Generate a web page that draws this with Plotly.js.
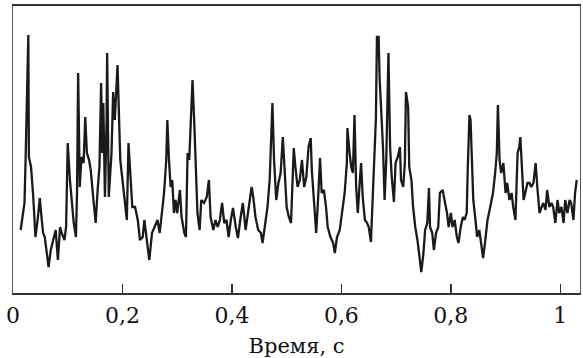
<!DOCTYPE html>
<html>
<head>
<meta charset="utf-8">
<script src="https://cdn.plot.ly/plotly-3.0.1.min.js"></script>
<style>
html,body{margin:0;padding:0;background:#fff;}
#chart{width:583px;height:358px;}
</style>
</head>
<body>
<div id="chart"></div>
<script>
// Time, s
const timeS = [0.014,0.021,0.023,0.028,0.029,0.033,0.037,0.041,0.045,0.049,0.052,0.055,0.058,0.065,0.069,0.074,0.078,0.082,0.086,0.089,0.094,0.097,0.100,0.104,0.107,0.111,0.115,0.117,0.119,0.122,0.125,0.129,0.132,0.135,0.139,0.142,0.147,0.151,0.155,0.158,0.161,0.163,0.165,0.168,0.171,0.172,0.175,0.180,0.183,0.186,0.191,0.194,0.196,0.200,0.204,0.208,0.211,0.215,0.218,0.223,0.228,0.232,0.237,0.240,0.244,0.249,0.254,0.258,
0.264,0.268,0.272,0.276,0.280,0.282,0.285,0.288,0.291,0.294,0.297,0.300,0.305,0.308,0.313,0.316,0.319,0.322,0.325,0.328,0.331,0.333,0.337,0.341,0.344,0.349,0.354,0.358,0.361,0.366,0.370,0.374,0.378,0.382,0.386,0.390,0.394,0.398,0.402,0.407,0.411,0.416,0.420,0.425,0.429,0.433,0.436,0.439,0.443,0.448,0.453,0.456,0.460,0.465,0.469,0.471,0.474,0.477,0.481,0.485,0.489,0.493,0.497,0.500,0.504,0.508,0.510,0.513,0.516,0.520,
0.524,0.528,0.532,0.536,0.540,0.544,0.546,0.550,0.554,0.558,0.561,0.564,0.568,0.572,0.575,0.580,0.585,0.588,0.592,0.597,0.601,0.606,0.610,0.611,0.615,0.618,0.621,0.624,0.627,0.630,0.633,0.636,0.639,0.643,0.647,0.650,0.654,0.657,0.661,0.663,0.665,0.668,0.670,0.673,0.676,0.679,0.682,0.686,0.689,0.692,0.696,0.699,0.703,0.707,0.709,0.713,0.716,0.718,0.722,0.724,0.728,0.731,0.735,0.739,0.743,0.746,0.750,0.753,0.757,0.760,0.762,0.766,0.769,0.773,0.777,0.780,
0.785,0.789,0.793,0.796,0.800,0.803,0.807,0.811,0.814,0.818,0.822,0.825,0.829,0.831,0.834,0.836,0.839,0.841,0.845,0.848,0.852,0.856,0.859,0.863,0.867,0.872,0.877,0.881,0.884,0.886,0.889,0.892,0.896,0.900,0.903,0.907,0.911,0.914,0.918,0.922,0.925,0.927,0.930,0.933,0.936,0.940,0.944,0.947,0.951,0.955,0.958,0.962,0.966,0.969,0.973,0.976,0.980,0.984,0.987,0.991,0.995,0.998,1.002,1.006,1.009,1.013,1.017,1.020,1.024,1.027,1.030];
// Signal amplitude, arbitrary units
const signal = [63,90,133,258,136,126,96,56,73,95,76,60,56,26,43,53,63,33,66,60,53,66,150,113,93,70,56,100,220,106,136,130,176,140,133,123,93,70,106,126,210,140,190,96,173,240,96,140,201,173,228,173,133,113,90,73,150,113,86,86,73,53,56,73,56,33,60,66,
73,60,80,100,133,173,133,106,113,80,93,80,103,76,60,56,140,133,173,213,173,133,80,63,93,90,96,113,76,63,73,66,73,90,70,73,56,73,85,66,55,76,90,63,80,93,106,96,76,63,60,50,66,86,113,146,190,133,93,110,120,156,120,86,76,70,100,145,126,106,
113,133,106,116,146,155,123,86,60,100,135,100,103,86,66,56,50,40,56,63,80,100,130,165,140,126,120,178,106,80,106,130,96,73,70,66,51,100,146,173,256,256,213,180,146,93,133,240,146,116,91,130,136,146,113,106,130,201,186,126,113,86,66,53,36,21,40,63,70,105,66,60,43,60,66,100,
103,93,80,66,80,66,73,56,50,66,76,73,80,126,178,173,126,93,73,56,63,46,35,53,73,86,100,120,140,188,133,120,130,100,110,93,100,86,73,140,146,156,126,93,100,110,110,106,110,130,106,80,86,90,83,103,86,90,86,70,93,80,86,70,93,80,93,90,73,100,113];
const tickValues = [0, 0.2, 0.4, 0.6, 0.8, 1];
const tickLabels = ['0', '0,2', '0,4', '0,6', '0,8', '1'];

const serif = '"DejaVu Serif", "Liberation Serif", serif';
Plotly.newPlot('chart', [{
  x: timeS, y: signal, type: 'scatter', mode: 'lines',
  line: {color: '#1a1a1a', width: 2.3},
  hoverinfo: 'skip'
}], {
  width: 583, height: 358,
  margin: {l: 13, r: 3, t: 6, b: 65},
  paper_bgcolor: '#ffffff', plot_bgcolor: '#ffffff',
  showlegend: false,
  xaxis: {
    range: [0, 1.036], showgrid: false, zeroline: false,
    showline: true, mirror: true, linecolor: '#333', linewidth: 1.6,
    ticks: 'inside', ticklen: 9, tickwidth: 1.4, tickcolor: '#333',
    tickvals: tickValues, ticktext: tickLabels, ticklabelstandoff: 2,
    tickfont: {family: serif, size: 22, color: '#111'},
    title: {text: 'Время, с', font: {family: serif, size: 21, color: '#111'}, standoff: 12}
  },
  yaxis: {
    range: [0, 287], showgrid: false, zeroline: false,
    showline: true, mirror: true, linecolor: '#555', linewidth: 1.4,
    showticklabels: false, ticks: ''
  }
}, {displayModeBar: false, staticPlot: true});
</script>
</body>
</html>
